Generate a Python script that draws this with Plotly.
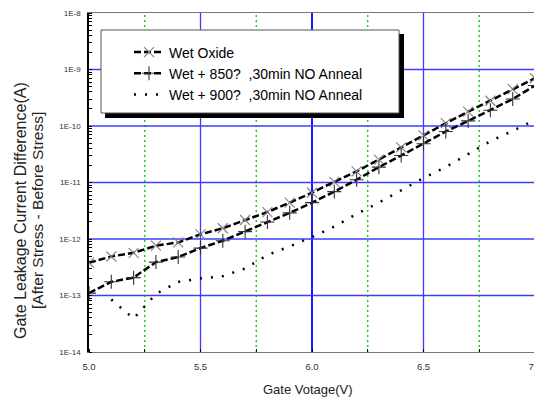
import plotly.graph_objects as go

voltage = [5.0, 5.1, 5.2, 5.3, 5.4, 5.5, 5.6, 5.7, 5.8, 5.9, 6.0,
           6.1, 6.2, 6.3, 6.4, 6.5, 6.6, 6.7, 6.8, 6.9, 7.0]
wet_oxide = [3.8e-13, 4.9e-13, 5.7e-13, 7.6e-13, 8.7e-13, 1.21e-12, 1.55e-12,
             2.17e-12, 3.0e-12, 4.4e-12, 6.6e-12, 1.03e-11, 1.58e-11, 2.55e-11,
             4.2e-11, 6.8e-11, 1.12e-10, 1.79e-10, 2.8e-10, 4.5e-10, 7.0e-10]
wet_850 = [1.1e-13, 1.75e-13, 2.07e-13, 3.9e-13, 4.8e-13, 6.9e-13, 9.3e-13,
           1.35e-12, 2.0e-12, 2.9e-12, 4.4e-12, 6.9e-12, 1.12e-11, 1.87e-11,
           3.0e-11, 4.85e-11, 8.0e-11, 1.23e-10, 1.9e-10, 3.0e-10, 5.2e-10]
wet_900 = [None, 8.5e-14, 3.9e-14, 1.07e-13, 1.74e-13, 2.0e-13, 2.2e-13,
           3.0e-13, 5.2e-13, 7.4e-13, 1.08e-12, 1.66e-12, 2.77e-12, 4.4e-12,
           7.2e-12, 1.2e-11, 1.88e-11, 3.2e-11, 5.4e-11, 8.2e-11, 1.28e-10]

names = ["Wet Oxide", "Wet + 850?  ,30min NO Anneal", "Wet + 900?  ,30min NO Anneal"]
y_tickvals = [1e-14, 1e-13, 1e-12, 1e-11, 1e-10, 1e-9, 1e-8]
y_ticktext = ["1E-14", "1E-13", "1E-12", "1E-11", "1E-10", "1E-9", "1E-8"]
x_tickvals = [5.0, 5.5, 6.0, 6.5, 7.0]
x_ticktext = ["5.0", "5.5", "6.0", "6.5", "7.0"]
x_major_grid = [5.5, 6.5]
x_strong_grid = [6.0]
x_minor_grid = [5.25, 5.75, 6.25, 6.75]
y_title = ["Gate Leakage Current Difference(A)", "[After Stress - Before Stress]"]
x_title = "Gate Votage(V)"

FONT = "Liberation Sans, Arial, sans-serif"
# page body has an 8px margin: the figure is sized / offset to compensate
OFF = 8
PAGE_W, PAGE_H = 542, 400
L, R, T, B = 89, 535, 13, 352   # plot area in page pixels
W, H = PAGE_W - OFF, PAGE_H - OFF
BLUE = "#3c3cff"
GREEN = "#00cc00"


def px(x):
    return (x - L) / (R - L)


def py(y):
    return (B - y) / (B - T)


fig = go.Figure()
fig.add_trace(go.Scatter(
    x=voltage, y=wet_oxide, name=names[0], mode="lines+markers",
    line=dict(color="black", width=2.5, dash="7px,3px"),
    marker=dict(symbol="x-thin-open", size=10, color="#808080",
                line=dict(color="#808080", width=1.1)),
))
fig.add_trace(go.Scatter(
    x=voltage, y=wet_850, name=names[1], mode="lines+markers",
    line=dict(color="black", width=2.5, dash="7px,3px"),
    marker=dict(symbol="cross-thin-open", size=10, color="#333333",
                line=dict(color="#333333", width=1.1)),
))
fig.add_trace(go.Scatter(
    x=voltage, y=wet_900, name=names[2], mode="lines",
    line=dict(color="black", width=2.5, dash="2px,9px"),
))

# grid lines
for xv in x_minor_grid:
    fig.add_vline(x=xv, line=dict(color=GREEN, width=1.3, dash="2px,3px"), layer="below")
for xv in x_major_grid:
    fig.add_vline(x=xv, line=dict(color=BLUE, width=1.3), layer="below")
for xv in x_strong_grid:
    fig.add_vline(x=xv, line=dict(color="#0000ff", width=1.8), layer="below")
for yv in y_tickvals[1:-1]:
    fig.add_hline(y=yv, line=dict(color=BLUE, width=1.3), layer="below")

# gray right border
fig.add_shape(type="line", xref="paper", yref="paper", x0=1, x1=1, y0=0, y1=1,
              line=dict(color="#888888", width=1.2))

# legend box with shadow
fig.add_shape(type="rect", xref="paper", yref="paper",
              x0=px(105), x1=px(404), y0=py(118), y1=py(34),
              fillcolor="black", line=dict(width=0), layer="above")
fig.add_shape(type="rect", xref="paper", yref="paper",
              x0=px(101), x1=px(399), y0=py(113), y1=py(30),
              fillcolor="white", line=dict(color="#555555", width=1), layer="above")

# axis titles
fig.add_annotation(text=y_title[0], xref="paper", yref="paper", x=px(20), y=py(211),
                   textangle=-90, showarrow=False, xanchor="center", yanchor="middle",
                   font=dict(size=16, family=FONT, color="#222222"))
fig.add_annotation(text=y_title[1], xref="paper", yref="paper", x=px(37), y=py(211),
                   textangle=-90, showarrow=False, xanchor="center", yanchor="middle",
                   font=dict(size=15.5, family=FONT, color="#222222"))
fig.add_annotation(text=x_title, xref="paper", yref="paper", x=px(308), y=py(389),
                   showarrow=False, xanchor="center", yanchor="middle",
                   font=dict(size=13, family=FONT, color="#222222"))

fig.update_layout(
    width=W, height=H,
    margin=dict(l=L - OFF, r=W - (R - OFF), t=T - OFF, b=H - (B - OFF)),
    paper_bgcolor="white", plot_bgcolor="white",
    font=dict(family=FONT, color="#222222"),
    showlegend=True,
    legend=dict(x=px(129), y=py(36.5), xanchor="left", yanchor="top",
                bgcolor="rgba(0,0,0,0)", borderwidth=0,
                font=dict(size=14, family=FONT, color="black"),
                itemwidth=30, tracegroupgap=0),
    xaxis=dict(
        range=[5.0, 7.0], tickvals=x_tickvals, ticktext=x_ticktext,
        showgrid=False,
        showline=True, linecolor="#777777", linewidth=1.2, mirror=True,
        ticks="", tickfont=dict(size=9.5, color="#333333"),
        ticklabelstandoff=5, automargin=False, ticklabeloverflow="allow",
        minor=dict(dtick=0.25, tick0=5.0, showgrid=False, ticks="inside",
                   ticklen=3, tickcolor="black"),
        zeroline=False,
    ),
    yaxis=dict(
        type="log", range=[-14, -8], tickvals=y_tickvals, ticktext=y_ticktext,
        showgrid=False,
        showline=True, linecolor="black", linewidth=1.5,
        ticks="", tickfont=dict(size=8, color="#333333"),
        ticklabelstandoff=5, automargin=False, ticklabeloverflow="allow",
        minor=dict(dtick="D1", ticks="inside", ticklen=3, tickcolor="black",
                   showgrid=False),
        zeroline=False,
    ),
)

fig.write_html("out.html")
